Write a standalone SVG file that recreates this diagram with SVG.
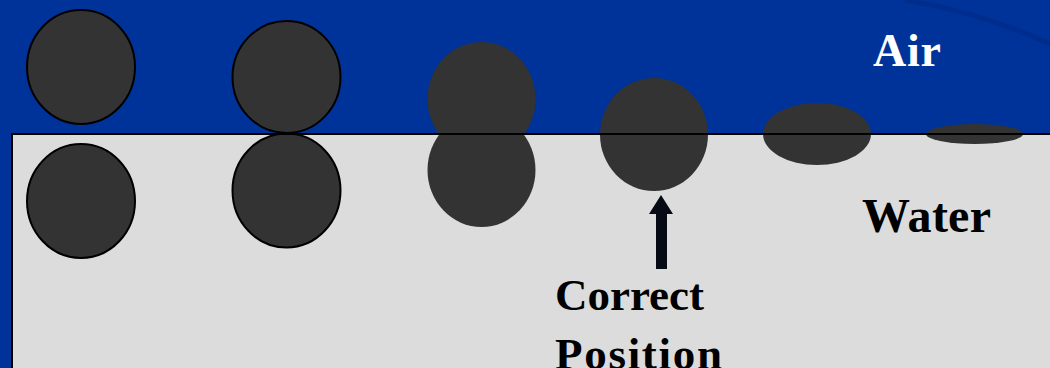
<svg xmlns="http://www.w3.org/2000/svg" width="1050" height="368" viewBox="0 0 1050 368">
  <style>
    .drop { fill: #333333; }
    .outlined { stroke: #000000; stroke-width: 2; }
    .label { font-family: "Liberation Serif", "Times New Roman", serif; font-weight: bold; }
  </style>

  <!-- air -->
  <rect id="air" x="0" y="0" width="1050" height="368" fill="#003399"/>
  <path d="M905,0 Q980,12 1050,44" fill="none" stroke="#002b88" stroke-width="5" opacity="0.7"/>

  <!-- water -->
  <rect id="water" x="12" y="134" width="1045" height="245" fill="#dcdcdc" stroke="#000000" stroke-width="2"/>

  <!-- droplets, from detached to fully spread -->
  <g id="drop-above"><ellipse class="drop outlined" cx="81" cy="67" rx="54" ry="57"/></g>
  <g id="drop-below"><ellipse class="drop outlined" cx="81" cy="201" rx="54" ry="57"/></g>
  <g id="drop-touch-top"><ellipse class="drop outlined" cx="286.5" cy="77" rx="54" ry="56"/></g>
  <g id="drop-touch-bottom"><ellipse class="drop outlined" cx="286.5" cy="190.5" rx="54" ry="57"/></g>
  <g id="drop-merged">
    <ellipse class="drop" cx="481.5" cy="99" rx="54" ry="57"/>
    <ellipse class="drop" cx="481.5" cy="170" rx="54" ry="57"/>
  </g>
  <g id="drop-correct"><ellipse class="drop" cx="654" cy="134.5" rx="54" ry="56.5"/></g>
  <g id="drop-flattened"><ellipse class="drop" cx="817" cy="134" rx="54" ry="31"/></g>
  <g id="drop-spread"><ellipse class="drop" cx="974.5" cy="134" rx="48.5" ry="10"/></g>

  <!-- interface line -->
  <line x1="12" y1="134" x2="1050" y2="134" stroke="#000000" stroke-width="2"/>

  <!-- pointer to the correct position -->
  <g id="connectors">
    <path d="M661,195 L673,214 L667,214 L667,269 L656,269 L656,214 L649,214 Z" fill="#050a14"/>
  </g>

  <!-- labels -->
  <text class="label" x="873" y="66" font-size="46" fill="#ffffff" textLength="68" lengthAdjust="spacing">Air</text>
  <text class="label" x="862" y="232" font-size="48" fill="#000000" textLength="129" lengthAdjust="spacing">Water</text>
  <text class="label" x="555" y="310" font-size="45" fill="#000000" textLength="149" lengthAdjust="spacing">Correct</text>
  <text class="label" x="555" y="369" font-size="45" fill="#000000" textLength="167" lengthAdjust="spacing">Position</text>
</svg>
